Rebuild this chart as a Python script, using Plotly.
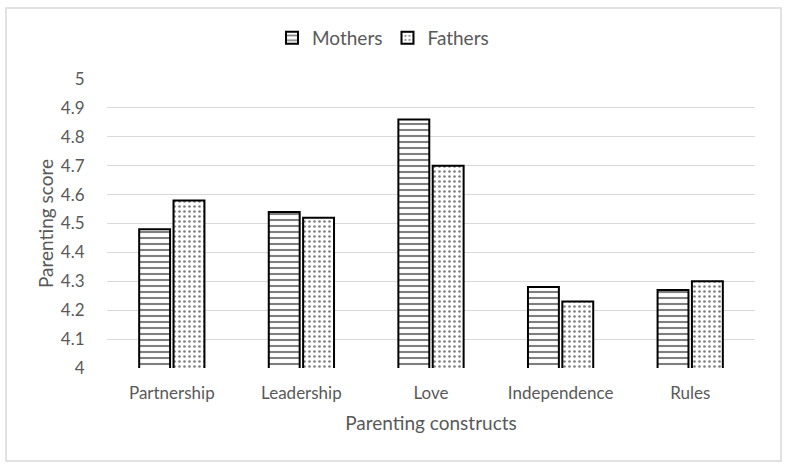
import plotly.graph_objects as go

categories = ["Partnership", "Leadership", "Love", "Independence", "Rules"]
mothers = [4.48, 4.54, 4.86, 4.28, 4.27]
fathers = [4.58, 4.52, 4.70, 4.23, 4.30]
yticks = [4, 4.1, 4.2, 4.3, 4.4, 4.5, 4.6, 4.7, 4.8, 4.9, 5]

FONT = "Lato"
GRAY = "#595959"

fig = go.Figure()
fig.add_trace(go.Bar(
    name="Mothers", x=categories, y=mothers,
    marker=dict(color="white", line=dict(color="black", width=2),
                pattern=dict(shape="-", fgcolor="black", bgcolor="white", size=6, solidity=0.35)),
))
fig.add_trace(go.Bar(
    name="Fathers", x=categories, y=fathers,
    marker=dict(color="white", line=dict(color="black", width=2),
                pattern=dict(shape=".", fgcolor="black", bgcolor="white", size=5, solidity=0.22)),
))

L, R, T, B = 107, 31, 79, 99
W, H = 786, 467
pw, ph = W - L - R, H - T - B

fig.update_layout(
    width=W, height=H,
    margin=dict(l=L, r=R, t=T, b=B),
    paper_bgcolor="white", plot_bgcolor="white",
    barmode="group", bargap=0.47, bargroupgap=0.1,
    font=dict(family=FONT, color=GRAY, size=17),
    legend=dict(orientation="h", x=(383 - L) / pw, xanchor="center", y=1.0 + (79 - 38) / ph, yanchor="middle",
                font=dict(size=19, color=GRAY), traceorder="normal", itemwidth=30),
    xaxis=dict(showgrid=False, showline=False, ticks="outside", ticklen=10, tickcolor="rgba(0,0,0,0)",
               tickfont=dict(size=17, color=GRAY),
               title=dict(text="Parenting constructs", font=dict(size=19, color=GRAY), standoff=14)),
    yaxis=dict(range=[4, 5], tickvals=yticks, ticktext=[f"{v:g}" for v in yticks],
               showgrid=True, gridcolor="#d9d9d9", gridwidth=1, zeroline=False, showline=False,
               ticks="outside", ticklen=18, tickcolor="rgba(0,0,0,0)",
               tickfont=dict(size=17, color=GRAY),
               title=dict(text="Parenting score", font=dict(size=19, color=GRAY), standoff=2)),
    shapes=[dict(type="rect", xref="paper", yref="paper",
                 x0=(6 - L) / pw, x1=(781 - L) / pw,
                 y0=(H - B - 461) / ph, y1=(H - B - 8) / ph,
                 line=dict(color="#d9d9d9", width=1.5), fillcolor="rgba(0,0,0,0)", layer="below")],
)

fig.write_html("out.html")
